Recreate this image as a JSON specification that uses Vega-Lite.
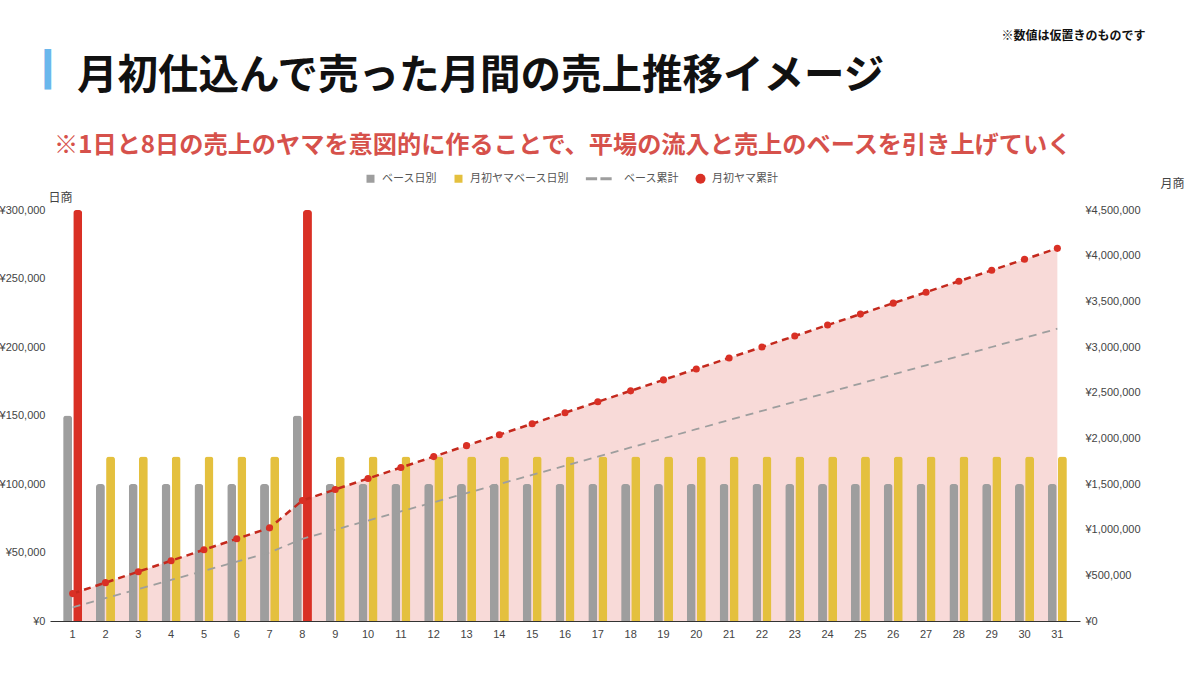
{
  "$schema": "https://vega.github.io/schema/vega-lite/v6.json",
  "width": 1030,
  "height": 411,
  "autosize": {"type": "none"},
  "padding": {"left": 50, "top": 210, "right": 120, "bottom": 54},
  "background": "white",
  "title": {
    "text": "月初仕込んで売った月間の売上推移イメージ",
    "subtitle": "※1日と8日の売上のヤマを意図的に作ることで、平場の流入と売上のベースを引き上げていく",
    "anchor": "start",
    "frame": "group",
    "font": "Noto Sans CJK JP",
    "fontSize": 40.5,
    "fontWeight": "bold",
    "color": "#111111",
    "subtitleFont": "Noto Sans CJK JP",
    "subtitleFontSize": 24.2,
    "subtitleFontWeight": "bold",
    "subtitleColor": "#d6514b",
    "subtitlePadding": 36,
    "dx": 4,
    "dy": 133,
    "encoding": {"dx": {"value": 27}}
  },
  "datasets": {
    "daily": [
      {"day": 1, "series": "ベース日別", "value": 150000}, {"day": 1, "series": "月初ヤマベース日別", "value": 300000},
      {"day": 2, "series": "ベース日別", "value": 100000}, {"day": 2, "series": "月初ヤマベース日別", "value": 120000},
      {"day": 3, "series": "ベース日別", "value": 100000}, {"day": 3, "series": "月初ヤマベース日別", "value": 120000},
      {"day": 4, "series": "ベース日別", "value": 100000}, {"day": 4, "series": "月初ヤマベース日別", "value": 120000},
      {"day": 5, "series": "ベース日別", "value": 100000}, {"day": 5, "series": "月初ヤマベース日別", "value": 120000},
      {"day": 6, "series": "ベース日別", "value": 100000}, {"day": 6, "series": "月初ヤマベース日別", "value": 120000},
      {"day": 7, "series": "ベース日別", "value": 100000}, {"day": 7, "series": "月初ヤマベース日別", "value": 120000},
      {"day": 8, "series": "ベース日別", "value": 150000}, {"day": 8, "series": "月初ヤマベース日別", "value": 300000},
      {"day": 9, "series": "ベース日別", "value": 100000}, {"day": 9, "series": "月初ヤマベース日別", "value": 120000},
      {"day": 10, "series": "ベース日別", "value": 100000}, {"day": 10, "series": "月初ヤマベース日別", "value": 120000},
      {"day": 11, "series": "ベース日別", "value": 100000}, {"day": 11, "series": "月初ヤマベース日別", "value": 120000},
      {"day": 12, "series": "ベース日別", "value": 100000}, {"day": 12, "series": "月初ヤマベース日別", "value": 120000},
      {"day": 13, "series": "ベース日別", "value": 100000}, {"day": 13, "series": "月初ヤマベース日別", "value": 120000},
      {"day": 14, "series": "ベース日別", "value": 100000}, {"day": 14, "series": "月初ヤマベース日別", "value": 120000},
      {"day": 15, "series": "ベース日別", "value": 100000}, {"day": 15, "series": "月初ヤマベース日別", "value": 120000},
      {"day": 16, "series": "ベース日別", "value": 100000}, {"day": 16, "series": "月初ヤマベース日別", "value": 120000},
      {"day": 17, "series": "ベース日別", "value": 100000}, {"day": 17, "series": "月初ヤマベース日別", "value": 120000},
      {"day": 18, "series": "ベース日別", "value": 100000}, {"day": 18, "series": "月初ヤマベース日別", "value": 120000},
      {"day": 19, "series": "ベース日別", "value": 100000}, {"day": 19, "series": "月初ヤマベース日別", "value": 120000},
      {"day": 20, "series": "ベース日別", "value": 100000}, {"day": 20, "series": "月初ヤマベース日別", "value": 120000},
      {"day": 21, "series": "ベース日別", "value": 100000}, {"day": 21, "series": "月初ヤマベース日別", "value": 120000},
      {"day": 22, "series": "ベース日別", "value": 100000}, {"day": 22, "series": "月初ヤマベース日別", "value": 120000},
      {"day": 23, "series": "ベース日別", "value": 100000}, {"day": 23, "series": "月初ヤマベース日別", "value": 120000},
      {"day": 24, "series": "ベース日別", "value": 100000}, {"day": 24, "series": "月初ヤマベース日別", "value": 120000},
      {"day": 25, "series": "ベース日別", "value": 100000}, {"day": 25, "series": "月初ヤマベース日別", "value": 120000},
      {"day": 26, "series": "ベース日別", "value": 100000}, {"day": 26, "series": "月初ヤマベース日別", "value": 120000},
      {"day": 27, "series": "ベース日別", "value": 100000}, {"day": 27, "series": "月初ヤマベース日別", "value": 120000},
      {"day": 28, "series": "ベース日別", "value": 100000}, {"day": 28, "series": "月初ヤマベース日別", "value": 120000},
      {"day": 29, "series": "ベース日別", "value": 100000}, {"day": 29, "series": "月初ヤマベース日別", "value": 120000},
      {"day": 30, "series": "ベース日別", "value": 100000}, {"day": 30, "series": "月初ヤマベース日別", "value": 120000},
      {"day": 31, "series": "ベース日別", "value": 100000}, {"day": 31, "series": "月初ヤマベース日別", "value": 120000}
    ],
    "cumulative": [
      {"day": 1, "series": "ベース累計", "value": 150000}, {"day": 1, "series": "月初ヤマ累計", "value": 300000},
      {"day": 2, "series": "ベース累計", "value": 250000}, {"day": 2, "series": "月初ヤマ累計", "value": 420000},
      {"day": 3, "series": "ベース累計", "value": 350000}, {"day": 3, "series": "月初ヤマ累計", "value": 540000},
      {"day": 4, "series": "ベース累計", "value": 450000}, {"day": 4, "series": "月初ヤマ累計", "value": 660000},
      {"day": 5, "series": "ベース累計", "value": 550000}, {"day": 5, "series": "月初ヤマ累計", "value": 780000},
      {"day": 6, "series": "ベース累計", "value": 650000}, {"day": 6, "series": "月初ヤマ累計", "value": 900000},
      {"day": 7, "series": "ベース累計", "value": 750000}, {"day": 7, "series": "月初ヤマ累計", "value": 1020000},
      {"day": 8, "series": "ベース累計", "value": 900000}, {"day": 8, "series": "月初ヤマ累計", "value": 1320000},
      {"day": 9, "series": "ベース累計", "value": 1000000}, {"day": 9, "series": "月初ヤマ累計", "value": 1440000},
      {"day": 10, "series": "ベース累計", "value": 1100000}, {"day": 10, "series": "月初ヤマ累計", "value": 1560000},
      {"day": 11, "series": "ベース累計", "value": 1200000}, {"day": 11, "series": "月初ヤマ累計", "value": 1680000},
      {"day": 12, "series": "ベース累計", "value": 1300000}, {"day": 12, "series": "月初ヤマ累計", "value": 1800000},
      {"day": 13, "series": "ベース累計", "value": 1400000}, {"day": 13, "series": "月初ヤマ累計", "value": 1920000},
      {"day": 14, "series": "ベース累計", "value": 1500000}, {"day": 14, "series": "月初ヤマ累計", "value": 2040000},
      {"day": 15, "series": "ベース累計", "value": 1600000}, {"day": 15, "series": "月初ヤマ累計", "value": 2160000},
      {"day": 16, "series": "ベース累計", "value": 1700000}, {"day": 16, "series": "月初ヤマ累計", "value": 2280000},
      {"day": 17, "series": "ベース累計", "value": 1800000}, {"day": 17, "series": "月初ヤマ累計", "value": 2400000},
      {"day": 18, "series": "ベース累計", "value": 1900000}, {"day": 18, "series": "月初ヤマ累計", "value": 2520000},
      {"day": 19, "series": "ベース累計", "value": 2000000}, {"day": 19, "series": "月初ヤマ累計", "value": 2640000},
      {"day": 20, "series": "ベース累計", "value": 2100000}, {"day": 20, "series": "月初ヤマ累計", "value": 2760000},
      {"day": 21, "series": "ベース累計", "value": 2200000}, {"day": 21, "series": "月初ヤマ累計", "value": 2880000},
      {"day": 22, "series": "ベース累計", "value": 2300000}, {"day": 22, "series": "月初ヤマ累計", "value": 3000000},
      {"day": 23, "series": "ベース累計", "value": 2400000}, {"day": 23, "series": "月初ヤマ累計", "value": 3120000},
      {"day": 24, "series": "ベース累計", "value": 2500000}, {"day": 24, "series": "月初ヤマ累計", "value": 3240000},
      {"day": 25, "series": "ベース累計", "value": 2600000}, {"day": 25, "series": "月初ヤマ累計", "value": 3360000},
      {"day": 26, "series": "ベース累計", "value": 2700000}, {"day": 26, "series": "月初ヤマ累計", "value": 3480000},
      {"day": 27, "series": "ベース累計", "value": 2800000}, {"day": 27, "series": "月初ヤマ累計", "value": 3600000},
      {"day": 28, "series": "ベース累計", "value": 2900000}, {"day": 28, "series": "月初ヤマ累計", "value": 3720000},
      {"day": 29, "series": "ベース累計", "value": 3000000}, {"day": 29, "series": "月初ヤマ累計", "value": 3840000},
      {"day": 30, "series": "ベース累計", "value": 3100000}, {"day": 30, "series": "月初ヤマ累計", "value": 3960000},
      {"day": 31, "series": "ベース累計", "value": 3200000}, {"day": 31, "series": "月初ヤマ累計", "value": 4080000}
    ]
  },
  "layer": [
    {
      "data": {"name": "cumulative"},
      "transform": [{"filter": "datum.series === '月初ヤマ累計'"}],
      "mark": {"type": "area", "color": "#d93025", "opacity": 0.18},
      "encoding": {
        "x": {
          "field": "day",
          "type": "ordinal",
          "scale": {"paddingInner": 0.42, "paddingOuter": 0.4},
          "axis": {
            "orient": "top",
            "labels": false,
            "ticks": false,
            "domain": false,
            "grid": false,
            "title": "▎",
            "titleFont": "DejaVu Sans",
            "titleFontSize": 34,
            "titleColor": "#6ab7ec",
            "titleAngle": 0,
            "titleAlign": "center",
            "titleBaseline": "middle",
            "titleX": 7,
            "titleY": -140
          }
        },
        "y": {
          "field": "value",
          "type": "quantitative",
          "scale": {"domain": [0, 4500000], "nice": false},
          "axis": null
        }
      }
    },
    {
      "data": {"name": "daily"},
      "mark": {"type": "bar", "cornerRadiusTopLeft": 3, "cornerRadiusTopRight": 3},
      "encoding": {
        "x": {
          "field": "day",
          "type": "ordinal",
          "axis": {
            "orient": "bottom",
            "labelAngle": 0,
            "ticks": false,
            "domainColor": "#333333",
            "labelColor": "#444444",
            "labelFont": "Liberation Sans",
            "labelFontSize": 11,
            "labelPadding": 7,
            "title": "※数値は仮置きのものです",
            "titleFont": "Noto Sans CJK JP",
            "titleFontSize": 12,
            "titleFontWeight": "bold",
            "titleColor": "#111111",
            "titleAlign": "right",
            "titleBaseline": "middle",
            "titleX": 1095,
            "titleY": -586
          }
        },
        "xOffset": {
          "field": "series",
          "type": "nominal",
          "sort": ["ベース日別", "月初ヤマベース日別"],
          "scale": {"paddingInner": 0.12}
        },
        "y": {
          "field": "value",
          "type": "quantitative",
          "scale": {"domain": [0, 300000], "nice": false},
          "axis": {
            "orient": "left",
            "values": [0, 50000, 100000, 150000, 200000, 250000, 300000],
            "labelExpr": "'¥' + format(datum.value, ',')",
            "ticks": false,
            "domain": false,
            "gridColor": "#dddddd",
            "labelFont": "Liberation Sans",
            "labelFontSize": 11,
            "labelColor": "#444444",
            "labelPadding": 5,
            "title": "日商",
            "titleFont": "Noto Sans CJK JP",
            "titleFontSize": 12,
            "titleFontWeight": "normal",
            "titleColor": "#444444",
            "titleAngle": 0,
            "titleAlign": "left",
            "titleBaseline": "middle",
            "titleX": -2,
            "titleY": -13
          }
        },
        "color": {
          "condition": {
            "test": "(datum.day === 1 || datum.day === 8) && datum.series === '月初ヤマベース日別'",
            "value": "#d93025"
          },
          "field": "series",
          "type": "nominal",
          "scale": {
            "domain": ["ベース日別", "月初ヤマベース日別", "ベース累計", "月初ヤマ累計"],
            "range": ["#9e9e9e", "#e4c03e", "#9e9e9e", "#d93025"]
          },
          "legend": {
            "orient": "none",
            "legendX": 315,
            "legendY": -37,
            "direction": "horizontal",
            "title": null,
            "labelFont": "Noto Sans CJK JP",
            "labelFontSize": 11,
            "labelColor": "#555555",
            "symbolSize": 64,
            "symbolStrokeWidth": 0,
            "columnPadding": 16,
            "labelOffset": 6,
            "encoding": {
              "symbols": {
                "shape": {"value": {"expr": "datum.value === 'ベース累計' ? 'M-0.35,-0.11H0.5V0.11H-0.35Z M0.75,-0.11H1.6V0.11H0.75Z' : datum.value === '月初ヤマ累計' ? 'circle' : 'square'"}},
                "size": {"value": {"expr": "datum.value === 'ベース累計' ? 700 : datum.value === '月初ヤマ累計' ? 100 : 64"}}
              },
              "labels": {
                "dx": {"value": {"expr": "datum.value === 'ベース累計' ? 22 : 0"}}
              }
            }
          }
        }
      }
    },
    {
      "data": {"name": "cumulative"},
      "encoding": {
        "x": {"field": "day", "type": "ordinal", "axis": null},
        "y": {
          "field": "value",
          "type": "quantitative",
          "scale": {"domain": [0, 4500000], "nice": false},
          "axis": {
            "orient": "right",
            "values": [0, 500000, 1000000, 1500000, 2000000, 2500000, 3000000, 3500000, 4000000, 4500000],
            "labelExpr": "'¥' + format(datum.value, ',')",
            "ticks": false,
            "domain": false,
            "grid": false,
            "labelFont": "Liberation Sans",
            "labelFontSize": 11,
            "labelColor": "#444444",
            "labelPadding": 5,
            "title": "月商",
            "titleFont": "Noto Sans CJK JP",
            "titleFontSize": 12,
            "titleFontWeight": "normal",
            "titleColor": "#444444",
            "titleAngle": 0,
            "titleAlign": "center",
            "titleBaseline": "middle",
            "titleX": 92,
            "titleY": -27
          }
        }
      },
      "layer": [
        {
          "transform": [{"filter": "datum.series === 'ベース累計'"}],
          "mark": {"type": "line", "color": "#9e9e9e", "strokeWidth": 1.8, "strokeDash": [8, 6]}
        },
        {
          "transform": [{"filter": "datum.series === '月初ヤマ累計'"}],
          "mark": {"type": "line", "color": "#c4291d", "strokeWidth": 2.5, "strokeDash": [7, 5]}
        },
        {
          "transform": [{"filter": "datum.series === '月初ヤマ累計'"}],
          "mark": {"type": "point", "filled": true, "color": "#d93025", "size": 50, "opacity": 1}
        }
      ]
    }
  ],
  "resolve": {"scale": {"y": "independent"}, "axis": {"x": "independent"}},
  "config": {
    "font": "Noto Sans CJK JP",
    "view": {"stroke": null}
  }
}
